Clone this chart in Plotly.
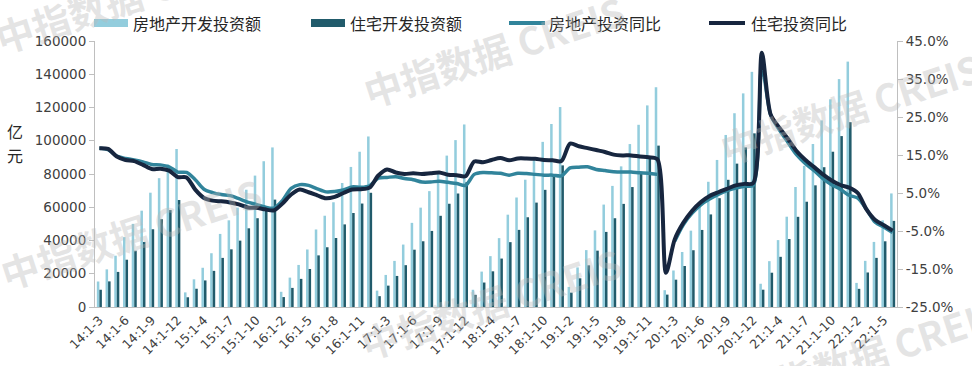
import plotly.graph_objects as go

# ---------------- data ----------------
categories = (
    ["14:1-3", "14:1-4", "14:1-5", "14:1-6", "14:1-7", "14:1-8", "14:1-9", "14:1-10", "14:1-11", "14:1-12"]
    + ["15:1-2", "15:1-3", "15:1-4", "15:1-5", "15:1-6", "15:1-7", "15:1-8", "15:1-9", "15:1-10", "15:1-11", "15:1-12"]
    + ["16:1-2", "16:1-3", "16:1-4", "16:1-5", "16:1-6", "16:1-7", "16:1-8", "16:1-9", "16:1-10", "16:1-11", "16:1-12"]
    + ["17:1-2", "17:1-3", "17:1-4", "17:1-5", "17:1-6", "17:1-7", "17:1-8", "17:1-9", "17:1-10", "17:1-11", "17:1-12"]
    + ["18:1-2", "18:1-3", "18:1-4", "18:1-5", "18:1-6", "18:1-7", "18:1-8", "18:1-9", "18:1-10", "18:1-11", "18:1-12"]
    + ["19:1-2", "19:1-3", "19:1-4", "19:1-5", "19:1-6", "19:1-7", "19:1-8", "19:1-9", "19:1-10", "19:1-11", "19:1-12"]
    + ["20:1-2", "20:1-3", "20:1-4", "20:1-5", "20:1-6", "20:1-7", "20:1-8", "20:1-9", "20:1-10", "20:1-11", "20:1-12"]
    + ["21:1-2", "21:1-3", "21:1-4", "21:1-5", "21:1-6", "21:1-7", "21:1-8", "21:1-9", "21:1-10", "21:1-11", "21:1-12"]
    + ["22:1-2", "22:1-3", "22:1-4", "22:1-5", "22:1-6"]
)

tick_labels = [
    "14:1-3", "14:1-6", "14:1-9", "14:1-12", "15:1-4", "15:1-7", "15:1-10", "16:1-2",
    "16:1-5", "16:1-8", "16:1-11", "17:1-3", "17:1-6", "17:1-9", "17:1-12", "18:1-4",
    "18:1-7", "18:1-10", "19:1-2", "19:1-5", "19:1-8", "19:1-11", "20:1-3", "20:1-6",
    "20:1-9", "20:1-12", "21:1-4", "21:1-7", "21:1-10", "22:1-2", "22:1-5",
]

# 房地产开发投资额 (亿元)
invest_total = [
    15339, 22630, 30853, 42019, 50010, 57945, 68751, 77500, 85800, 95036,
    8786, 16645, 23600, 32340, 43955, 52140, 59770, 70535, 79040, 87690, 95979,
    9140, 17677, 25300, 34600, 46631, 54900, 63000, 74598, 84254, 93387, 102581,
    9854, 19292, 27732, 37562, 50610, 59761, 69694, 80644, 91069, 100387, 109799,
    10357, 21291, 30592, 41434, 55531, 65862, 76551, 88948, 99325, 110083, 120264,
    12090, 23803, 34217, 46075, 61609, 72843, 84589, 98008, 109603, 121265, 132194,
    10115, 21963, 33103, 45920, 62780, 75325, 88454, 103484, 116556, 128492, 141443,
    13986, 27576, 40240, 54318, 72179, 84895, 98060, 112231, 124934, 137086, 147602,
    14499, 27765, 39154, 52134, 68314,
]

# 住宅开发投资额 (亿元)
invest_res = [
    10369, 15410, 21107, 28446, 33843, 39139, 46765, 52833, 58300, 64352,
    5851, 10981, 15980, 21740, 29537, 34690, 39920, 47330, 53410, 58710, 64595,
    5972, 11490, 16920, 22870, 31056, 35940, 41520, 49690, 56560, 62230, 68704,
    6519, 12855, 18680, 25160, 34467, 39540, 45760, 54860, 62100, 68270, 75148,
    7325, 14718, 21469, 29139, 39005, 46390, 53981, 62790, 70470, 78224, 85192,
    8644, 17264, 25076, 33889, 45167, 53394, 62025, 72146, 80759, 89488, 97071,
    7447, 16430, 24670, 34146, 46350, 55689, 65454, 76509, 86237, 96000, 104446,
    10404, 20624, 30180, 40890, 54244, 63320, 73180, 84090, 93400, 102800, 111173,
    10924, 20761, 29546, 39521, 51804,
]

# 房地产投资同比 (%)
yoy_total = [
    16.8, 16.4, 14.7, 14.1, 13.7, 13.2, 12.5, 12.4, 11.9, 10.5,
    10.4, 8.5, 6.0, 5.1, 4.6, 4.3, 3.5, 2.6, 2.0, 1.3, 1.0,
    3.0, 6.2, 7.2, 7.0, 6.1, 5.3, 5.4, 5.8, 6.6, 6.5, 6.9,
    8.9, 9.1, 9.3, 8.8, 8.5, 7.9, 7.9, 8.1, 7.8, 7.5, 7.0,
    9.9, 10.4, 10.3, 10.2, 9.7, 10.2, 10.1, 9.9, 9.7, 9.7, 9.5,
    11.6, 11.8, 11.9, 11.2, 10.9, 10.6, 10.5, 10.5, 10.3, 10.2, 9.9,
    None, -7.7, -3.3, -0.3, 1.9, 3.4, 4.6, 5.6, 6.3, 6.8, 7.0,
    38.3, 25.6, 21.6, 18.3, 15.0, 12.7, 10.9, 8.8, 7.2, 6.0, 4.4,
    3.7, 0.7, -2.7, -4.0, -5.4,
]

# 住宅投资同比 (%)
yoy_res = [
    16.8, 16.6, 14.6, 13.7, 13.4, 12.4, 11.3, 11.4, 10.9, 9.2,
    9.1, 5.9, 3.7, 3.0, 2.8, 2.5, 2.0, 1.2, 1.1, 0.7, 0.4,
    2.2, 4.6, 5.9, 5.2, 4.4, 3.6, 4.0, 5.0, 5.9, 6.0, 6.4,
    9.6, 11.2, 10.4, 10.0, 10.2, 10.0, 10.2, 10.4, 9.8, 9.7, 9.4,
    13.3, 13.1, 13.7, 14.2, 13.6, 14.1, 14.1, 14.0, 13.7, 13.6, 13.4,
    18.0, 17.3, 16.8, 16.3, 15.8, 15.1, 14.9, 14.9, 14.6, 14.4, 13.9,
    -16.0, -7.2, -2.8, 0.3, 2.6, 4.2, 5.2, 6.1, 7.0, 7.4, 7.6,
    41.9, 25.7, 22.2, 19.2, 16.0, 13.7, 11.8, 9.9, 8.3, 7.1, 6.4,
    5.0, 0.7, -2.1, -3.5, -4.9,
]

series_names = ["房地产开发投资额", "住宅开发投资额", "房地产投资同比", "住宅投资同比"]
left_ticks = [0, 20000, 40000, 60000, 80000, 100000, 120000, 140000, 160000]
right_ticks = [-25, -15, -5, 5, 15, 25, 35, 45]
right_tick_text = ["-25.0%", "-15.0%", "-5.0%", "5.0%", "15.0%", "25.0%", "35.0%", "45.0%"]
unit_chars = ["亿", "元"]
watermark_text = "<b>中指数据 CREIS</b>"

# ---------------- style ----------------
C_LIGHT = "#93CDDD"
C_DARK = "#215B6B"
C_TEAL = "#31849B"
C_NAVY = "#17263F"
AXIS_GREY = "#BFBFBF"
TXT = "#404040"
CJK = "Noto Sans CJK SC"
NUM = "DejaVu Sans"

W, H = 972, 366
ML, MR, MT, MB = 95, 75, 41, 59
PW, PH = W - ML - MR, H - MT - MB


def px(xp):
    return (xp - ML) / PW


def py(yp):
    return (H - MB - yp) / PH


fig = go.Figure()
fig.add_trace(go.Bar(x=categories, y=invest_total, name=series_names[0],
                     marker=dict(color=C_LIGHT, line=dict(width=0)), yaxis="y"))
fig.add_trace(go.Bar(x=categories, y=invest_res, name=series_names[1],
                     marker=dict(color=C_DARK, line=dict(width=0)), yaxis="y"))
fig.add_trace(go.Scatter(x=categories, y=yoy_total, name=series_names[2], mode="lines",
                         line=dict(color=C_TEAL, width=3.5, shape="spline", smoothing=0.8),
                         connectgaps=False, yaxis="y2"))
fig.add_trace(go.Scatter(x=categories, y=yoy_res, name=series_names[3], mode="lines",
                         line=dict(color=C_NAVY, width=4, shape="spline", smoothing=0.8),
                         yaxis="y2"))

# manual legend
shapes = [
    dict(type="rect", xref="paper", yref="paper", x0=px(94), x1=px(128), y0=py(27), y1=py(19),
         fillcolor=C_LIGHT, line=dict(width=0)),
    dict(type="rect", xref="paper", yref="paper", x0=px(311), x1=px(345), y0=py(27), y1=py(19),
         fillcolor=C_DARK, line=dict(width=0)),
    dict(type="line", xref="paper", yref="paper", x0=px(509), x1=px(545), y0=py(23), y1=py(23),
         line=dict(color=C_TEAL, width=4)),
    dict(type="line", xref="paper", yref="paper", x0=px(709), x1=px(745), y0=py(23), y1=py(23),
         line=dict(color=C_NAVY, width=4)),
]
annotations = []
for xpos, name in zip([131, 348, 547, 749], series_names):
    annotations.append(dict(xref="paper", yref="paper", x=px(xpos), y=py(23), text=name,
                            showarrow=False, xanchor="left", yanchor="middle",
                            font=dict(family=CJK, size=16, color="#262626")))
for ypos, ch in zip([131, 155], unit_chars):
    annotations.append(dict(xref="paper", yref="paper", x=px(15), y=py(ypos), text=ch,
                            showarrow=False, xanchor="center", yanchor="middle",
                            font=dict(family=CJK, size=16, color="#262626")))

# watermarks
for (wx, wy) in [(125, -3), (493, 50), (850, 108), (130, 232), (490, 302), (870, 352)]:
    annotations.append(dict(xref="paper", yref="paper", x=px(wx), y=py(wy), text=watermark_text,
                            showarrow=False, textangle=-18, xanchor="center", yanchor="middle",
                            font=dict(family=CJK, size=38, color="rgba(185,185,185,0.38)")))

fig.update_layout(
    width=W, height=H,
    margin=dict(l=ML, r=MR, t=MT, b=MB, pad=0, autoexpand=False),
    paper_bgcolor="white", plot_bgcolor="white",
    barmode="group", bargap=0.42, bargroupgap=0.0,
    showlegend=False, hovermode=False,
    shapes=shapes, annotations=annotations,
    xaxis=dict(type="category", categoryorder="array", categoryarray=categories,
               range=[-0.5, len(categories) - 0.5], automargin=False,
               tickmode="array", tickvals=tick_labels, ticktext=tick_labels,
               tickangle=-45, tickfont=dict(family=NUM, size=12.5, color=TXT),
               showline=True, linecolor=AXIS_GREY, linewidth=1, ticks="",
               showgrid=False, zeroline=False),
    yaxis=dict(range=[0, 160000], tickmode="array", tickvals=left_ticks, automargin=False,
               tickformat="d", tickfont=dict(family=NUM, size=13.5, color=TXT),
               showline=True, linecolor=AXIS_GREY, linewidth=1,
               ticks="outside", ticklen=5, tickcolor=AXIS_GREY,
               showgrid=False, zeroline=False),
    yaxis2=dict(range=[-25, 45], overlaying="y", side="right", tickmode="array",
                tickvals=right_ticks, ticktext=right_tick_text, automargin=False,
                tickfont=dict(family=NUM, size=13.5, color=TXT),
                showline=True, linecolor=AXIS_GREY, linewidth=1,
                ticks="outside", ticklen=5, tickcolor=AXIS_GREY,
                showgrid=False, zeroline=False),
)

fig.write_html("out.html", config={"displayModeBar": False},
               post_script="document.body.style.margin='0';document.body.style.padding='0';")
